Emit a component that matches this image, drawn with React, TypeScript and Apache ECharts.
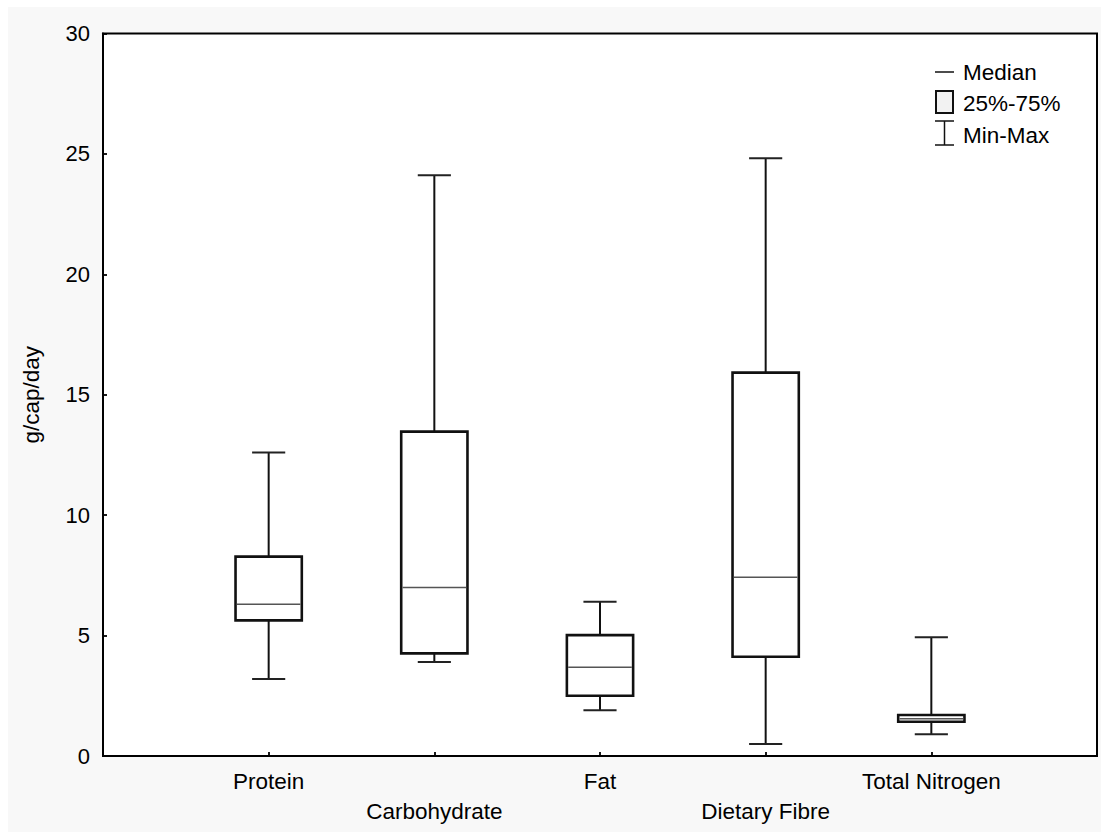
import React, { useEffect, useRef } from "react";
import * as echarts from "echarts";

const categories = ["Protein", "Carbohydrate", "Fat", "Dietary Fibre", "Total Nitrogen"];
const minValues = [3.2, 3.9, 1.9, 0.5, 0.9];
const q1Values = [5.63, 4.26, 2.5, 4.12, 1.42];
const medianValues = [6.3, 7.0, 3.68, 7.42, 1.55];
const q3Values = [8.28, 13.47, 5.02, 15.92, 1.7];
const maxValues = [12.6, 24.11, 6.4, 24.82, 4.93];
const yTicks = [0, 5, 10, 15, 20, 25, 30];
const legendLabels = ["Median", "25%-75%", "Min-Max"];

const FONT = "'Liberation Sans', Arial, Helvetica, sans-serif";

export default function App() {
  const ref = useRef<HTMLDivElement>(null);
  useEffect(() => {
    document.body.style.margin = "0";
    if (!ref.current) return;
    const chart = echarts.init(ref.current, undefined, { renderer: "svg" });
    const data = categories.map((_, i) => [
      i + 1,
      minValues[i],
      q1Values[i],
      medianValues[i],
      q3Values[i],
      maxValues[i],
    ]);
    const option: any = {
      animation: false,
      backgroundColor: "#f8f8f8",
      textStyle: { fontFamily: FONT },
      grid: {
        left: 95,
        right: 4,
        top: 26.5,
        bottom: 76,
        show: true,
        backgroundColor: "#ffffff",
        borderColor: "#000",
        borderWidth: 2,
      },
      xAxis: {
        type: "value",
        min: 0,
        max: 6,
        interval: 1,
        splitLine: { show: false },
        axisLine: { show: true, lineStyle: { color: "#000", width: 2 } },
        axisTick: { show: true, inside: true, length: 4, lineStyle: { color: "#000", width: 1.8 } },
        axisLabel: {
          color: "#000",
          fontSize: 22.5,
          fontFamily: FONT,
          lineHeight: 30,
          margin: 10,
          showMinLabel: false,
          showMaxLabel: false,
          formatter: (v: number) => {
            const i = Math.round(v) - 1;
            if (i < 0 || i >= categories.length || Math.abs(v - Math.round(v)) > 1e-6) return "";
            return i % 2 === 1 ? "\n" + categories[i] : categories[i];
          },
        },
      },
      yAxis: {
        type: "value",
        min: 0,
        max: 30,
        interval: 5,
        name: "g/cap/day",
        nameLocation: "middle",
        nameGap: 60,
        nameTextStyle: { color: "#000", fontSize: 22.5, fontFamily: FONT },
        splitLine: { show: false },
        axisLine: { show: true, lineStyle: { color: "#000", width: 2 } },
        axisTick: { show: true, inside: true, length: 4, lineStyle: { color: "#000", width: 1.8 } },
        axisLabel: {
          color: "#000",
          fontSize: 22,
          fontFamily: FONT,
          margin: 13,
          formatter: (v: number) => (yTicks.includes(v) ? String(v) : ""),
        },
      },
      series: [
        {
          type: "custom",
          data,
          encode: { x: 0, y: [1, 2, 3, 4, 5] },
          renderItem: (params: any, api: any) => {
            const x = api.value(0);
            const pMin = api.coord([x, api.value(1)]);
            const pQ1 = api.coord([x, api.value(2)]);
            const pMed = api.coord([x, api.value(3)]);
            const pQ3 = api.coord([x, api.value(4)]);
            const pMax = api.coord([x, api.value(5)]);
            const unit = api.size([1, 0])[0];
            const bw = unit * 0.4;
            const cw = unit * 0.2;
            const cx = pMed[0];
            const whisker = { stroke: "#111", lineWidth: 2 };
            const cap = { stroke: "#222", lineWidth: 2 };
            return {
              type: "group",
              children: [
                { type: "line", shape: { x1: cx, y1: pQ3[1], x2: cx, y2: pMax[1] }, style: whisker },
                { type: "line", shape: { x1: cx, y1: pQ1[1], x2: cx, y2: pMin[1] }, style: whisker },
                { type: "line", shape: { x1: cx - cw / 2, y1: pMax[1], x2: cx + cw / 2, y2: pMax[1] }, style: cap },
                { type: "line", shape: { x1: cx - cw / 2, y1: pMin[1], x2: cx + cw / 2, y2: pMin[1] }, style: cap },
                {
                  type: "rect",
                  shape: { x: cx - bw / 2, y: pQ3[1], width: bw, height: pQ1[1] - pQ3[1] },
                  style: { fill: "#ffffff", stroke: "#111", lineWidth: 2.6 },
                },
                {
                  type: "line",
                  shape: { x1: cx - bw / 2 + 1.3, y1: pMed[1], x2: cx + bw / 2 - 1.3, y2: pMed[1] },
                  style: { stroke: "#555", lineWidth: 1.5 },
                },
              ],
            };
          },
        },
      ],
      graphic: [
        { type: "line", shape: { x1: 927, y1: 65, x2: 946, y2: 65 }, style: { stroke: "#111", lineWidth: 1.5 } },
        {
          type: "text",
          x: 955,
          y: 65,
          style: { text: legendLabels[0], fill: "#000", font: "22.5px " + FONT, verticalAlign: "middle" },
        },
        {
          type: "rect",
          shape: { x: 928, y: 84, width: 17, height: 22 },
          style: { fill: "#f2f2f2", stroke: "#111", lineWidth: 2 },
        },
        {
          type: "text",
          x: 955,
          y: 96,
          style: { text: legendLabels[1], fill: "#000", font: "22.5px " + FONT, verticalAlign: "middle" },
        },
        { type: "line", shape: { x1: 936.5, y1: 114, x2: 936.5, y2: 138 }, style: { stroke: "#111", lineWidth: 1.5 } },
        { type: "line", shape: { x1: 927, y1: 114, x2: 946, y2: 114 }, style: { stroke: "#111", lineWidth: 1.5 } },
        { type: "line", shape: { x1: 927, y1: 138, x2: 946, y2: 138 }, style: { stroke: "#111", lineWidth: 1.5 } },
        {
          type: "text",
          x: 955,
          y: 128,
          style: { text: legendLabels[2], fill: "#000", font: "22.5px " + FONT, verticalAlign: "middle" },
        },
      ],
    };
    chart.setOption(option);
    return () => chart.dispose();
  }, []);
  return (
    <div style={{ width: 1101, height: 832, paddingLeft: 8, paddingTop: 7, boxSizing: "border-box", background: "#fff" }}>
      <div ref={ref} style={{ width: 1093, height: 825 }} />
    </div>
  );
}
